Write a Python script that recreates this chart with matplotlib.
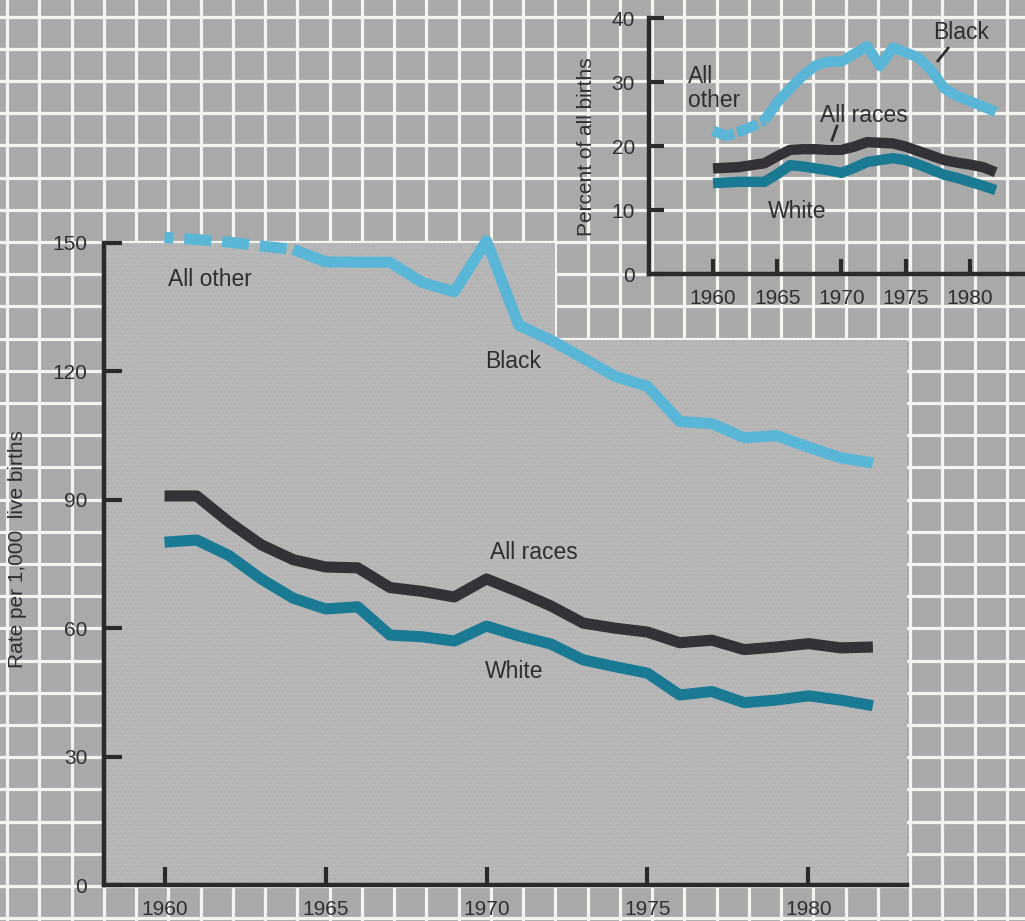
import numpy as np
import matplotlib
matplotlib.use("Agg")
import matplotlib.pyplot as plt
from matplotlib.patches import Rectangle, Polygon

# --- data ---
years = list(range(1960, 1983))

# main chart: rate per 1,000 live births
rate_all_other = [151.3, 150.8, 150.2, 149.3, 148.5, 145.6, 145.5, 145.5, 140.8, 138.6,
                  150.5, 130.8, 127.3, 123.1, 118.8, 116.5, 108.3, 107.8, 104.5, 105.0,
                  102.3, 99.8, 98.6]
rate_all_races = [90.9, 90.9, 84.8, 79.5, 76.0, 74.3, 74.1, 69.5, 68.6, 67.3,
                  71.5, 68.5, 65.2, 61.2, 60.0, 59.1, 56.6, 57.2, 55.0, 55.6,
                  56.4, 55.4, 55.6]
rate_white = [80.1, 80.6, 77.0, 71.5, 67.0, 64.5, 65.0, 58.4, 58.0, 57.0,
              60.5, 58.2, 56.3, 52.6, 51.0, 49.5, 44.4, 45.2, 42.6, 43.2,
              44.2, 43.2, 41.9]

# inset: percent of all births
pct_all_other = [22.4, 21.6, 22.2, 23.0, 24.0, 26.8, 29.0, 31.0, 32.6, 33.2,
                 33.2, 34.4, 35.6, 32.5, 35.4, 34.6, 33.8, 31.8, 29.0, 27.8,
                 27.0, 26.2, 25.3]
pct_all_races = [16.5, 16.6, 16.7, 17.0, 17.3, 18.4, 19.4, 19.5, 19.5, 19.4,
                 19.4, 19.9, 20.6, 20.5, 20.4, 19.9, 19.2, 18.5, 17.8, 17.4,
                 17.1, 16.7, 15.9]
pct_white = [14.2, 14.3, 14.4, 14.4, 14.4, 15.6, 17.0, 16.8, 16.5, 16.2,
             15.8, 16.6, 17.5, 17.8, 18.1, 17.8, 17.1, 16.3, 15.5, 15.0,
             14.4, 13.8, 13.1]

x_ticks = [1960, 1965, 1970, 1975, 1980]
main_yticks = [0, 30, 60, 90, 120, 150]
inset_yticks = [0, 10, 20, 30, 40]
dashed_until = 1964  # "All other" is dashed before this year

# --- style ---
BLUE = "#5ab6d6"
DARK = "#343236"
TEAL = "#1b7a93"
INK = "#2f2f2f"
GRID_BG = "#a9a9a9"
GRID_LINE = "#f3f3f0"
PANEL = "#b8b8b8"

plt.rcParams["font.family"] = ["Liberation Sans", "DejaVu Sans"]
plt.rcParams["lines.scale_dashes"] = False

W, H = 1025, 921
fig = plt.figure(figsize=(W / 100, H / 100), dpi=100)

# background graph-paper grid and the main panel
bg = fig.add_axes([0, 0, 1, 1])
bg.set_xlim(0, W)
bg.set_ylim(H, 0)
bg.axis("off")
bg.add_patch(Rectangle((0, 0), W, H, color=GRID_BG, zorder=0))
for gx in np.arange(7, W + 5, 32.25):
    bg.axvline(gx, color=GRID_LINE, lw=2.3, zorder=1)
for gy in np.arange(242 - 32.2 * 8, H + 5, 32.2):
    bg.axhline(gy, color=GRID_LINE, lw=2.3, zorder=1)
panel = [(104, 243), (555, 243), (555, 340), (907, 340), (907, 885), (104, 885)]
bg.add_patch(Polygon(panel, closed=True, facecolor=PANEL, edgecolor="#b0b0b0",
                     linewidth=0, hatch="....", zorder=2))


def style_axes(ax, xlim, ylim, yticks, ylab_pad, xlab_pad, ticklen, fs):
    ax.patch.set_alpha(0)
    ax.set_xlim(*xlim)
    ax.set_ylim(*ylim)
    for s in ["top", "right"]:
        ax.spines[s].set_visible(False)
    for s in ["left", "bottom"]:
        ax.spines[s].set_linewidth(3.2)
        ax.spines[s].set_color("#2a2a2a")
        ax.spines[s].set_capstyle("projecting")
    ax.set_xticks(x_ticks)
    ax.set_yticks(yticks)
    ax.tick_params(direction="in", length=ticklen, width=3, color="#2a2a2a",
                   labelsize=fs, labelcolor=INK)
    ax.tick_params(axis="y", pad=ylab_pad)
    ax.tick_params(axis="x", pad=xlab_pad)


def draw_series(ax, other, races, white, lw, dash_style):
    kw = dict(solid_capstyle="butt", dash_capstyle="butt", solid_joinstyle="round",
              clip_on=False)
    k = years.index(dashed_until)
    ax.plot(years[:k + 1], other[:k + 1], color=BLUE, lw=lw, ls=dash_style, **kw)
    ax.plot(years[k:], other[k:], color=BLUE, lw=lw, **kw)
    ax.plot(years, races, color=DARK, lw=lw, **kw)
    ax.plot(years, white, color=TEAL, lw=lw, **kw)


# --- main chart ---
ax = fig.add_axes([104 / W, 1 - 885 / H, (907 - 104) / W, (885 - 243) / H])
style_axes(ax, (1958.12, 1983.06), (0, 150), main_yticks, 12, 11, 13, 15)
draw_series(ax, rate_all_other, rate_all_races, rate_white, 8, (13, (19.4, 7.9)))
txt = dict(color=INK, fontsize=16.5, va="center", ha="left")
ax.text(1960.1, 141.4, "All other", **txt)
ax.text(1969.95, 122.2, "Black", **txt)
ax.text(1970.1, 77.8, "All races", **txt)
ax.text(1969.95, 49.8, "White", **txt)
fig.text(18 / W, 1 - 549 / H, "Rate per 1,000  live births", rotation=90,
         ha="center", va="center", fontsize=15, color=INK)

# --- inset chart ---
ins = fig.add_axes([649 / W, 1 - 274 / H, (W - 649) / W, 256 / H])
style_axes(ins, (1955.02, 1984.28), (0, 40), inset_yticks, 10, 11, 11, 15)
draw_series(ins, pct_all_other, pct_all_races, pct_white, 7.5, (0, (16, 2.5)))
ins.text(1977.1, 37.7, "Black", **txt)
ins.text(1958.05, 29.0, "All\nother", linespacing=1.05, **txt)
ins.text(1968.33, 24.8, "All races", **txt)
ins.text(1964.28, 9.7, "White", **txt)
ins.plot([1978.3, 1977.5], [35.3, 33.3], color=INK, lw=2, clip_on=False)
ins.plot([1969.65, 1969.26], [23.1, 20.9], color=INK, lw=2, clip_on=False)
fig.text(587 / W, 1 - 147 / H, "Percent of all births", rotation=90,
         ha="center", va="center", fontsize=15, color=INK)

fig.savefig("out.png", dpi=100)
